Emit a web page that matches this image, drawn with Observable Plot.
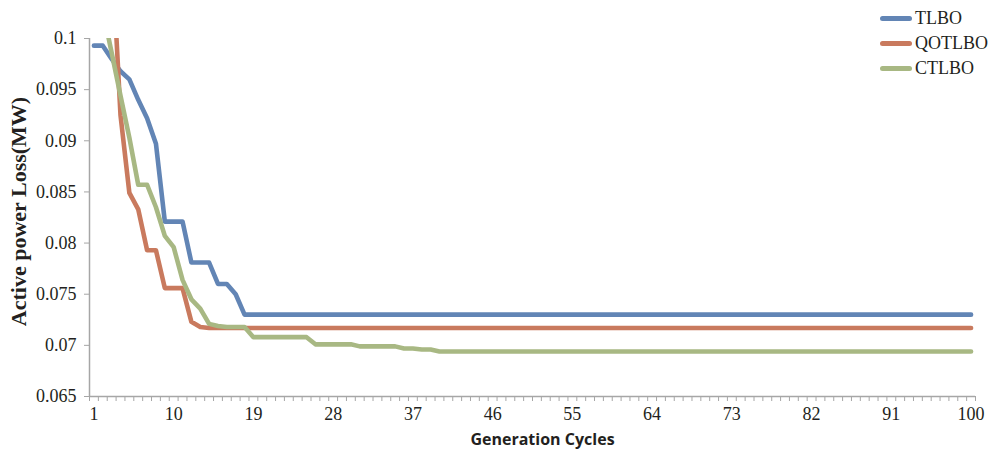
<!DOCTYPE html>
<html>
<head>
<meta charset="utf-8">
<script src="https://cdn.jsdelivr.net/npm/d3@7"></script>
<script src="https://cdn.jsdelivr.net/npm/@observablehq/plot@0.6"></script>
<style>
  html, body { margin: 0; padding: 0; background: #fff; }
  #chart { position: relative; width: 988px; height: 454px; }
  .legend { position: absolute; left: 880px; top: 6px; font-family: "Liberation Serif", serif; font-size: 18px; color: #231f20; }
  .legend .item { display: flex; align-items: center; height: 25px; }
  .legend .swatch { width: 32px; height: 5px; border-radius: 2.5px; margin-right: 3px; }
</style>
</head>
<body>
<div id="chart"></div>
<script>
// Generation index (x categories)
const generations = d3.range(1, 101);

// Active power loss (MW) per generation for each algorithm
const tlbo = [
  0.0993, 0.0993, 0.0980, 0.0968, 0.0960, 0.0940, 0.0922, 0.0897, 0.0821, 0.0821,
  0.0821, 0.0781, 0.0781, 0.0781, 0.0760, 0.0760, 0.0750, 0.0730, 0.0730, 0.0730,
  0.0730, 0.0730, 0.0730, 0.0730, 0.0730, 0.0730, 0.0730, 0.0730, 0.0730, 0.0730,
  0.0730, 0.0730, 0.0730, 0.0730, 0.0730, 0.0730, 0.0730, 0.0730, 0.0730, 0.0730,
  0.0730, 0.0730, 0.0730, 0.0730, 0.0730, 0.0730, 0.0730, 0.0730, 0.0730, 0.0730,
  0.0730, 0.0730, 0.0730, 0.0730, 0.0730, 0.0730, 0.0730, 0.0730, 0.0730, 0.0730,
  0.0730, 0.0730, 0.0730, 0.0730, 0.0730, 0.0730, 0.0730, 0.0730, 0.0730, 0.0730,
  0.0730, 0.0730, 0.0730, 0.0730, 0.0730, 0.0730, 0.0730, 0.0730, 0.0730, 0.0730,
  0.0730, 0.0730, 0.0730, 0.0730, 0.0730, 0.0730, 0.0730, 0.0730, 0.0730, 0.0730,
  0.0730, 0.0730, 0.0730, 0.0730, 0.0730, 0.0730, 0.0730, 0.0730, 0.0730, 0.0730
];
const qotlbo = [
  0.1150, 0.1120, 0.1090, 0.0925, 0.0849, 0.0833, 0.0793, 0.0793, 0.0756, 0.0756,
  0.0756, 0.0723, 0.0718, 0.0717, 0.0717, 0.0717, 0.0717, 0.0717, 0.0717, 0.0717,
  0.0717, 0.0717, 0.0717, 0.0717, 0.0717, 0.0717, 0.0717, 0.0717, 0.0717, 0.0717,
  0.0717, 0.0717, 0.0717, 0.0717, 0.0717, 0.0717, 0.0717, 0.0717, 0.0717, 0.0717,
  0.0717, 0.0717, 0.0717, 0.0717, 0.0717, 0.0717, 0.0717, 0.0717, 0.0717, 0.0717,
  0.0717, 0.0717, 0.0717, 0.0717, 0.0717, 0.0717, 0.0717, 0.0717, 0.0717, 0.0717,
  0.0717, 0.0717, 0.0717, 0.0717, 0.0717, 0.0717, 0.0717, 0.0717, 0.0717, 0.0717,
  0.0717, 0.0717, 0.0717, 0.0717, 0.0717, 0.0717, 0.0717, 0.0717, 0.0717, 0.0717,
  0.0717, 0.0717, 0.0717, 0.0717, 0.0717, 0.0717, 0.0717, 0.0717, 0.0717, 0.0717,
  0.0717, 0.0717, 0.0717, 0.0717, 0.0717, 0.0717, 0.0717, 0.0717, 0.0717, 0.0717
];
const ctlbo = [
  0.1060, 0.1028, 0.0986, 0.0944, 0.0903, 0.0857, 0.0857, 0.0835, 0.0807, 0.0796,
  0.0764, 0.0745, 0.0736, 0.0721, 0.0719, 0.0718, 0.0718, 0.0718, 0.0708, 0.0708,
  0.0708, 0.0708, 0.0708, 0.0708, 0.0708, 0.0701, 0.0701, 0.0701, 0.0701, 0.0701,
  0.0699, 0.0699, 0.0699, 0.0699, 0.0699, 0.0697, 0.0697, 0.0696, 0.0696, 0.0694,
  0.0694, 0.0694, 0.0694, 0.0694, 0.0694, 0.0694, 0.0694, 0.0694, 0.0694, 0.0694,
  0.0694, 0.0694, 0.0694, 0.0694, 0.0694, 0.0694, 0.0694, 0.0694, 0.0694, 0.0694,
  0.0694, 0.0694, 0.0694, 0.0694, 0.0694, 0.0694, 0.0694, 0.0694, 0.0694, 0.0694,
  0.0694, 0.0694, 0.0694, 0.0694, 0.0694, 0.0694, 0.0694, 0.0694, 0.0694, 0.0694,
  0.0694, 0.0694, 0.0694, 0.0694, 0.0694, 0.0694, 0.0694, 0.0694, 0.0694, 0.0694,
  0.0694, 0.0694, 0.0694, 0.0694, 0.0694, 0.0694, 0.0694, 0.0694, 0.0694, 0.0694
];

const seriesNames = ["TLBO", "QOTLBO", "CTLBO"];
const seriesColors = ["#6285b5", "#c97a5e", "#a8b883"];
const yTicks = [0.065, 0.07, 0.075, 0.08, 0.085, 0.09, 0.095, 0.1];
const xTickLabels = [1, 10, 19, 28, 37, 46, 55, 64, 73, 82, 91, 100];

// Long-format table for the line marks
const seriesValues = [tlbo, qotlbo, ctlbo];
const rows = seriesNames.flatMap((name, s) =>
  generations.map((g, i) => ({ series: name, gen: g, loss: seriesValues[s][i] }))
);

// Category boundaries get a small tick each
const boundaries = [0, ...generations].map(g => g + 0.5);

const axisGray = "#a6a6a6";
const textColor = "#231f20";

const chart = Plot.plot({
  width: 988,
  height: 454,
  marginLeft: 89,
  marginRight: 13,
  marginTop: 38,
  marginBottom: 58,
  style: { fontFamily: "'Liberation Serif', serif", background: "#fff", color: textColor },
  x: { domain: [0.5, 100.5] },
  y: { domain: [0.065, 0.1] },
  color: { domain: seriesNames, range: seriesColors },
  marks: [
    Plot.axisY({ ticks: yTicks, tickFormat: d => String(d), tickSize: 5, tickPadding: 8, fontSize: 18, stroke: axisGray, fill: textColor, label: null }),
    Plot.axisX({ ticks: boundaries, tickFormat: () => "", tickSize: 5, stroke: axisGray, label: null }),
    Plot.axisX({ ticks: xTickLabels, tickSize: 0, tickPadding: 11, fontSize: 18, fill: textColor, label: null }),
    Plot.ruleX([0.5], { stroke: axisGray, strokeWidth: 1.5 }),
    Plot.ruleY([0.065], { stroke: axisGray, strokeWidth: 1.5 }),
    Plot.lineY(rows, {
      x: "gen", y: "loss", z: "series", stroke: "series",
      strokeWidth: 4.6, strokeLinejoin: "round", strokeLinecap: "round", clip: true
    }),
    Plot.text(["Active power Loss(MW)"], {
      frameAnchor: "left", textAnchor: "middle", rotate: -90, dx: -71, dy: -6,
      fontSize: 22, fontWeight: "bold", fill: textColor
    }),
    Plot.text(["Generation Cycles"], {
      frameAnchor: "bottom", dx: 10, dy: 48,
      fontFamily: "'Open Sans', sans-serif", fontSize: 16, fontWeight: "bold", fill: textColor
    })
  ]
});

const container = document.getElementById("chart");
container.appendChild(chart);

// Legend in the upper right corner
const legend = document.createElement("div");
legend.className = "legend";
seriesNames.forEach((name, i) => {
  const item = document.createElement("div");
  item.className = "item";
  const sw = document.createElement("span");
  sw.className = "swatch";
  sw.style.background = seriesColors[i];
  const label = document.createElement("span");
  label.textContent = name;
  item.appendChild(sw);
  item.appendChild(label);
  legend.appendChild(item);
});
container.appendChild(legend);
</script>
</body>
</html>
